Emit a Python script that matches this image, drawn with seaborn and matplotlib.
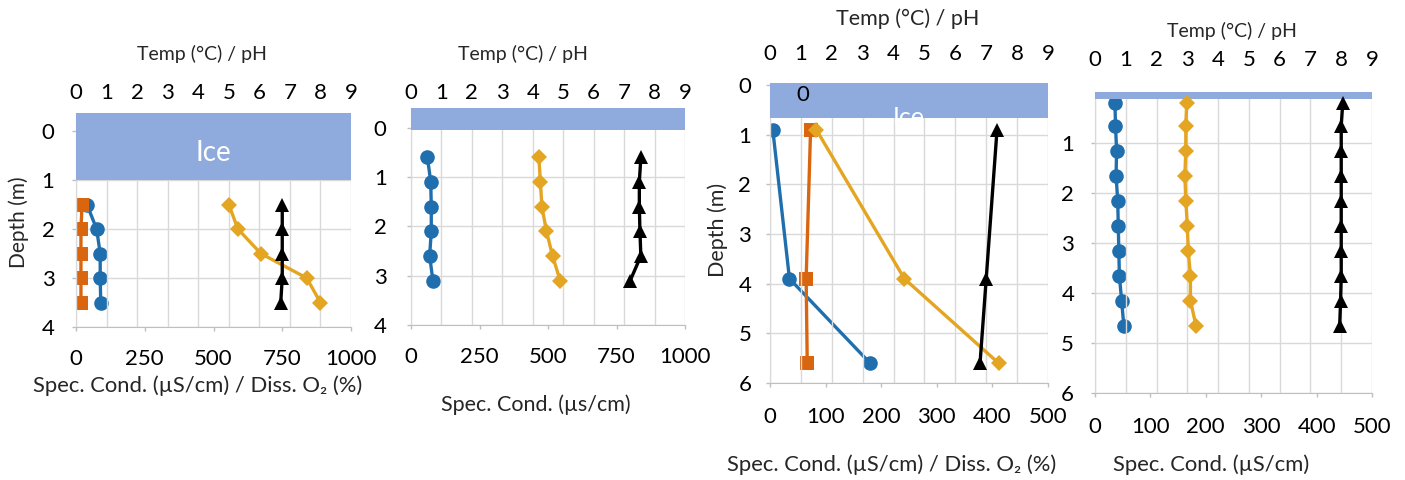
import matplotlib
matplotlib.use("Agg")
from matplotlib import pyplot as plt
import seaborn as sns

# Panel 1 (ice cover, deep site)
p1_depth = [1.5, 2.0, 2.5, 3.0, 3.5]
p1_cond = [40, 75, 88, 88, 90]
p1_do = [22, 18, 18, 18, 18]
p1_temp = [5.0, 5.3, 6.05, 7.55, 8.0]
p1_ph = [6.75, 6.75, 6.75, 6.75, 6.7]

# Panel 2
p2_depth = [0.6, 1.1, 1.6, 2.1, 2.6, 3.1]
p2_cond = [60, 72, 74, 74, 68, 80]
p2_temp = [4.2, 4.25, 4.3, 4.45, 4.65, 4.9]
p2_ph = [7.55, 7.5, 7.5, 7.52, 7.55, 7.2]

# Panel 3
p3_depth = [0.9, 3.9, 5.6]
p3_cond = [5, 35, 180]
p3_do = [73, 65, 67]
p3_temp = [1.5, 4.35, 7.4]
p3_ph = [7.35, 7.0, 6.8]

# Panel 4
p4_depth = [0.2, 0.65, 1.15, 1.65, 2.15, 2.65, 3.15, 3.65, 4.15, 4.65]
p4_cond = [36, 37, 39, 38, 41, 42, 43, 44, 48, 52]
p4_temp = [2.98, 2.95, 2.95, 2.92, 2.95, 3.0, 3.03, 3.1, 3.1, 3.28]
p4_ph = [8.05, 8.0, 8.0, 8.0, 8.0, 8.0, 8.0, 8.0, 7.98, 7.95]

# ice layer (depth in m) per panel
ice_top = [-0.37, -0.4, -0.04, -0.02]
ice_bottom = [1.0, 0.05, 0.67, 0.12]
max_depth = [4, 4, 6, 6]

bottom_max = [1000, 1000, 500, 500]
bottom_step = [250, 250, 100, 100]
top_ticks = list(range(10))

sns.set_style("white")
plt.rcParams["font.family"] = ["Lato", "DejaVu Sans"]

C_BLUE = "#1f6fae"
C_ORANGE = "#d9650f"
C_GOLD = "#e3a522"
C_ICE = "#8faadc"
C_GRID = "#d9d9d9"
C_AXIS = "#bfbfbf"

W, H = 1405, 480
fig = plt.figure(figsize=(W / 100, H / 100), dpi=100)

# pixel boxes: left, right, top, bottom
boxes = [(76, 351, 113, 327), (411, 685, 108, 325), (770, 1048, 83, 383), (1095, 1372, 92, 393)]
left_pad = [12.5, 14.5, 10.5, 12]
top_pad = [7, 3.5, 13.5, 16]
TICK_FS = 16

panels = [
    dict(depth=p1_depth, cond=p1_cond, do=p1_do, temp=p1_temp, ph=p1_ph),
    dict(depth=p2_depth, cond=p2_cond, do=None, temp=p2_temp, ph=p2_ph),
    dict(depth=p3_depth, cond=p3_cond, do=p3_do, temp=p3_temp, ph=p3_ph),
    dict(depth=p4_depth, cond=p4_cond, do=None, temp=p4_temp, ph=p4_ph),
]

axes = []
for i, p in enumerate(panels):
    l, r, t, b = boxes[i]
    ax = fig.add_axes([l / W, 1 - b / H, (r - l) / W, (b - t) / H])
    top = ax.twiny()

    ax.set_xlim(0, bottom_max[i])
    top.set_xlim(0, 9)
    ax.set_ylim(max_depth[i], ice_top[i])

    # ice layer
    top.axhspan(ice_top[i], ice_bottom[i], color=C_ICE, lw=0, zorder=1)

    lw = 2.4
    sns.lineplot(x=p["cond"], y=p["depth"], sort=False, estimator=None, ax=ax, color=C_BLUE,
                 lw=lw, marker="o", markersize=10.5, markeredgewidth=0)
    if p["do"] is not None:
        sns.lineplot(x=p["do"], y=p["depth"], sort=False, estimator=None, ax=ax, color=C_ORANGE,
                     lw=lw, marker="s", markersize=10, markeredgewidth=0)
    sns.lineplot(x=p["temp"], y=p["depth"], sort=False, estimator=None, ax=top, color=C_GOLD,
                 lw=lw, marker="D", markersize=8, markeredgewidth=0, zorder=3)
    sns.lineplot(x=p["ph"], y=p["depth"], sort=False, estimator=None, ax=top, color="black",
                 lw=lw, marker="^", markersize=10, markeredgewidth=0, zorder=3)

    # ticks
    ax.set_xticks(list(range(0, bottom_max[i] + 1, bottom_step[i])))
    yt = list(range(0, max_depth[i] + 1)) if i < 3 else list(range(1, max_depth[i] + 1))
    ax.set_yticks(yt)
    top.set_xticks(top_ticks)
    ax.set_xlabel("")
    ax.set_ylabel("")
    top.set_xlabel("")
    top.set_ylabel("")

    ax.tick_params(axis="x", bottom=True, length=3, width=1, color=C_AXIS, pad=12.5 if i < 2 else 14,
                   labelsize=TICK_FS, labelcolor="black")
    ax.tick_params(axis="y", left=True, length=3, width=1, color=C_AXIS, pad=left_pad[i],
                   labelsize=TICK_FS, labelcolor="black")
    top.tick_params(axis="x", top=True, length=0, pad=top_pad[i], labelsize=TICK_FS, labelcolor="black")

    ax.grid(axis="y", color=C_GRID, lw=1)
    ax.grid(axis="x", visible=False)
    top.grid(axis="x", color=C_GRID, lw=1)
    top.grid(axis="y", visible=False)
    top.set_axisbelow(True)

    for a in (ax, top):
        for side in ("top", "right", "left", "bottom"):
            a.spines[side].set_visible(False)
    ax.spines["left"].set_visible(True)
    ax.spines["bottom"].set_visible(True)
    ax.spines["left"].set_color(C_AXIS)
    ax.spines["bottom"].set_color(C_AXIS)
    axes.append((ax, top))

# ice labels
axes[0][1].text(4.5, 0.45, "Ice", color="white", fontsize=20, ha="center", va="center", zorder=4)
axes[2][1].text(4.5, 0.66, "Ice", color="white", fontsize=18, ha="center", va="center", zorder=4)
axes[2][1].text(1.07, 0.2, "0", color="black", fontsize=TICK_FS, ha="center", va="center", zorder=4)


def ftext(x, y, s, **kw):
    fig.text(x / W, 1 - y / H, s, ha="center", va="center", **kw)


# axis titles
ftext(202, 54, "Temp (°C) / pH", fontsize=14)
ftext(523, 54, "Temp (°C) / pH", fontsize=14)
ftext(908, 19, "Temp (°C) / pH", fontsize=15.5)
ftext(1232, 31, "Temp (°C) / pH", fontsize=14)

ftext(198, 386, "Spec. Cond. (µS/cm) / Diss. O₂ (%)", fontsize=15.8)
ftext(536, 405, "Spec. Cond. (µs/cm)", fontsize=15.5)
ftext(892, 465, "Spec. Cond. (µS/cm) / Diss. O₂ (%)", fontsize=15.8)
ftext(1211, 465, "Spec. Cond. (µS/cm)", fontsize=15.8)

ftext(19, 222, "Depth (m)", fontsize=15, rotation=90)
ftext(718, 230, "Depth (m)", fontsize=15.5, rotation=90)

plt.savefig("out.png", dpi=100)
